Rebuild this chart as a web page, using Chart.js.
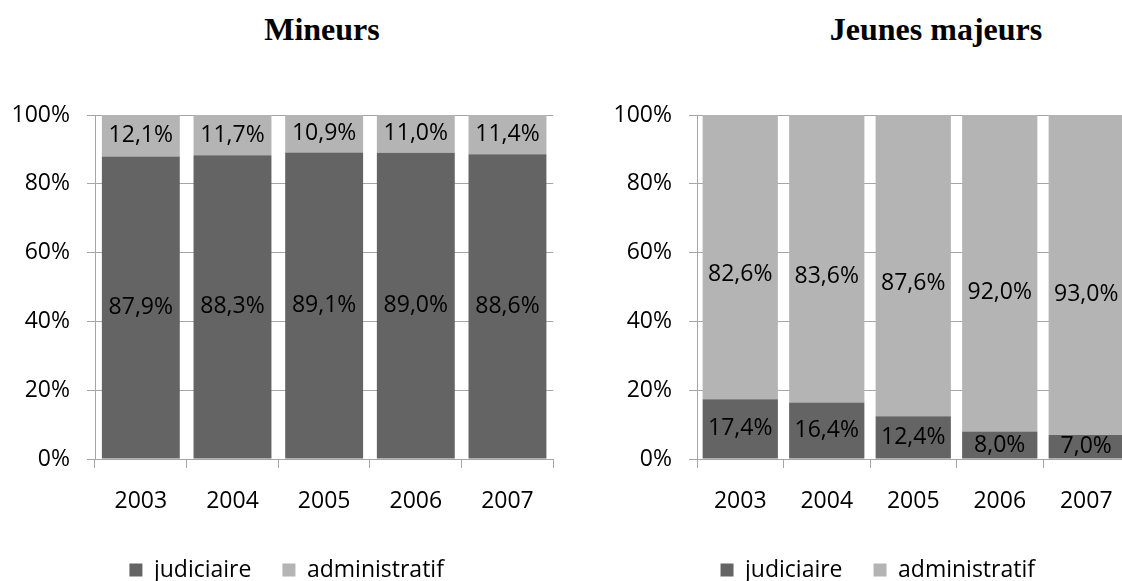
<!DOCTYPE html>
<html>
<head>
<meta charset="utf-8">
<script src="https://cdn.jsdelivr.net/npm/chart.js@4.4.1/dist/chart.umd.min.js"></script>
<style>
  html, body { margin: 0; padding: 0; background: #fff; }
  #page { position: relative; width: 1122px; height: 581px; overflow: hidden; }
  .chartBox { position: absolute; top: 0; height: 600px; }
  .title {
    position: absolute; top: 11px; width: 300px; text-align: center;
    font: bold 32px "Liberation Serif", "Times New Roman", serif; line-height: 36px; color: #000;
  }
</style>
</head>
<body>
<div id="page">
  <div class="title" style="left:172px">Mineurs</div>
  <div class="title" style="left:786px">Jeunes majeurs</div>
  <div class="chartBox" style="left:0; width:562px"><canvas id="mineurs"></canvas></div>
  <div class="chartBox" style="left:602px; width:588px"><canvas id="majeurs"></canvas></div>
</div>

<script>
// données
const years = ["2003", "2004", "2005", "2006", "2007"];
const seriesNames = ["judiciaire", "administratif"];

const mineursJudiciaire = [87.9, 88.3, 89.1, 89.0, 88.6];
const mineursAdministratif = [12.1, 11.7, 10.9, 11.0, 11.4];

const majeursJudiciaire = [17.4, 16.4, 12.4, 8.0, 7.0];
const majeursAdministratif = [82.6, 83.6, 87.6, 92.0, 93.0];

const yTicks = [0, 20, 40, 60, 80, 100];

const DARK = "#646464";
const LIGHT = "#b4b4b4";
const GRID = "#a6a6a6";
const FONT = { family: "'Open Sans', 'DejaVu Sans', sans-serif", size: 23 };

// étiquettes dans chaque segment (anchor = position relative depuis la base)
const segmentLabels = {
    id: "segmentLabels",
    afterDatasetsDraw(chart) {
        const ctx = chart.ctx;
        ctx.save();
        ctx.font = "23px 'Open Sans', 'DejaVu Sans', sans-serif";
        ctx.fillStyle = "#000";
        ctx.textAlign = "center";
        ctx.textBaseline = "middle";
        chart.data.datasets.forEach((ds, i) => {
            const anchor = ds.labelAnchor || 0.5;
            chart.getDatasetMeta(i).data.forEach((bar, j) => {
                const { x, y, base } = bar.getProps(["x", "y", "base"], true);
                const txt = ds.data[j].toFixed(1).replace(".", ",") + "%";
                ctx.fillText(txt, x, base - anchor * (base - y));
            });
        });
        ctx.restore();
    }
};

// décale un peu la légende vers la droite
const legendShift = {
    id: "legendShift",
    afterLayout(chart, args, opts) {
        const lg = chart.legend;
        if (!lg) return;
        lg.left += opts.dx;
        lg.right += opts.dx;
    }
};

function makeChart(id, judiciaire, administratif, barPct, padRight, topAnchor, dx) {
    new Chart(document.getElementById(id), {
        type: "bar",
        data: {
            labels: years,
            datasets: [
                { label: seriesNames[0], data: judiciaire, backgroundColor: DARK, borderWidth: 0 },
                { label: seriesNames[1], data: administratif, backgroundColor: LIGHT, borderWidth: 0, labelAnchor: topAnchor }
            ]
        },
        options: {
            responsive: true,
            maintainAspectRatio: false,
            animation: false,
            datasets: { bar: { barPercentage: barPct, categoryPercentage: 1 } },
            layout: { padding: { top: 115, right: padRight, bottom: 8.5, left: 0 } },
            plugins: {
                title: { display: false },
                tooltip: { enabled: false },
                legendShift: { dx: dx },
                legend: {
                    position: "bottom",
                    labels: {
                        color: "#000",
                        font: FONT,
                        boxWidth: 13,
                        boxHeight: 13,
                        padding: 31
                    }
                }
            },
            scales: {
                x: {
                    stacked: true,
                    grid: { offset: true, drawOnChartArea: false, tickLength: 9, color: GRID },
                    border: { color: GRID },
                    ticks: { color: "#000", font: FONT, padding: 20 },
                    afterFit: s => { s.height = 68.5; }
                },
                y: {
                    stacked: true,
                    min: 0,
                    max: 100,
                    afterBuildTicks: s => { s.ticks = yTicks.map(v => ({ value: v })); },
                    grid: { color: GRID, tickLength: 8 },
                    border: { color: GRID },
                    ticks: {
                        color: "#000",
                        font: FONT,
                        padding: 17,
                        callback: v => v + "%"
                    },
                    afterFit: s => { s.width = 95; }
                }
            }
        },
        plugins: [segmentLabels, legendShift]
    });
}

makeChart("mineurs", mineursJudiciaire, mineursAdministratif, 0.85, 8.7, 0.5, 10);
makeChart("majeurs", majeursJudiciaire, majeursAdministratif, 0.87, 60.5, 0.44, 12);
</script>
</body>
</html>
